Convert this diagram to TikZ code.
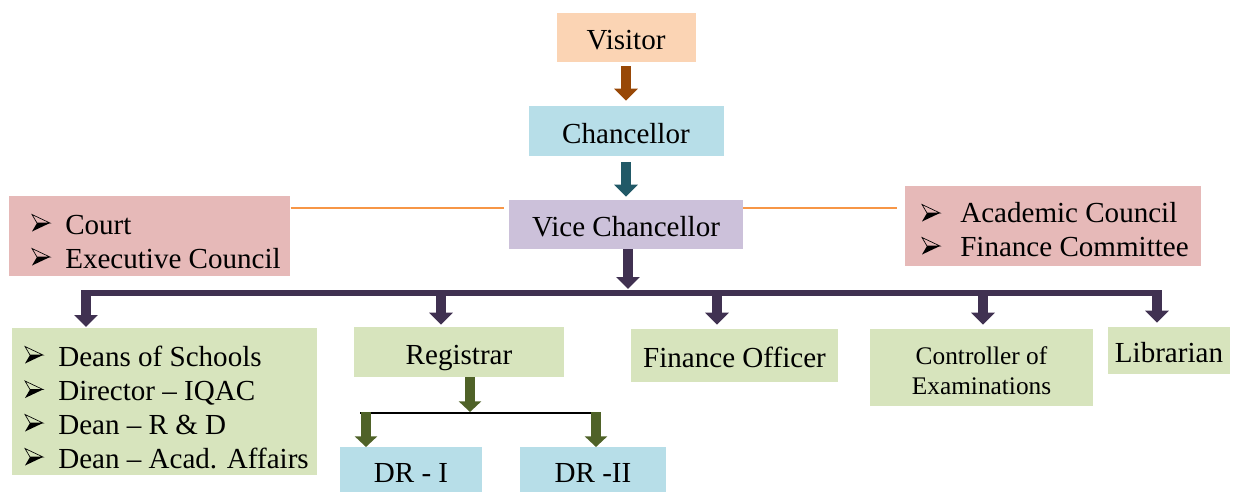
\documentclass[tikz,border=0pt]{standalone}
\usepackage{fontspec}
\setmainfont{Liberation Serif}
\usetikzlibrary{arrows.meta}
\newlength\pxu \setlength\pxu{0.75pt}
\definecolor{cPeach}{HTML}{FBD4B4}
\definecolor{cBlue}{HTML}{B7DEE8}
\definecolor{cLav}{HTML}{CCC1DA}
\definecolor{cPink}{HTML}{E6B9B8}
\definecolor{cGreen}{HTML}{D7E4BD}
\definecolor{cBrown}{HTML}{984807}
\definecolor{cTeal}{HTML}{215967}
\definecolor{cPurple}{HTML}{403151}
\definecolor{cOlive}{HTML}{4F6228}
\definecolor{cOrange}{HTML}{F79646}
\newcommand\bulgap{\hspace*{25.5pt}}
\tikzset{
  box/.style={rectangle, inner sep=0pt, font=\fontsize{21.8}{25.5}\selectfont, text height=18.6pt, text depth=-2.5pt},
  plainbox/.style={rectangle, inner sep=0pt},
  listtext/.style={inner sep=0pt, anchor=west, align=left, font=\fontsize{21.8}{25.5}\selectfont},
  blockarrow/.style={line width=7.5pt, -{Triangle[width=17.25pt, length=9pt]}},
  smallarrow/.style={line width=7.5pt, -{Triangle[width=16.5pt, length=8pt]}},
  busline/.style={line width=4.5pt, draw=cPurple},
  linkline/.style={line width=1.5pt, draw=cOrange},
  bul/.pic={
    \draw[line width=0.5pt, line join=miter] (0,-8.5) -- (18,0) -- (5,0) -- cycle;
    \fill[black] (5,0) -- (18,0) -- (0,8.5) -- cycle;
  },
}
\begin{document}
\begin{tikzpicture}[x=0.75pt, y=-0.75pt]
\useasboundingbox (0,0) rectangle (1235,492);

% top chain
\node[box, fill=cPeach, minimum width=139\pxu, minimum height=49\pxu] (vis) at (626,37.5) {Visitor};
\node[box, fill=cBlue, minimum width=195\pxu, minimum height=50\pxu] (chan) at (626,131) {Chancellor};
\node[box, fill=cLav, minimum width=234\pxu, minimum height=49\pxu] (vc) at (626,224.5) {Vice Chancellor};

% side bodies
\node[plainbox, fill=cPink, minimum width=281\pxu, minimum height=80\pxu, anchor=north west] (lbox) at (9,196) {};
\node[listtext] (ltext) at (31,242) {\bulgap Court\\ \bulgap Executive Council};
\pic at (32,223) {bul};
\pic at (32,257) {bul};
\node[plainbox, fill=cPink, minimum width=296\pxu, minimum height=80\pxu, anchor=north west] (rbox) at (905,186) {};
\node[listtext] (rtext) at (926,230) {\bulgap Academic Council\\ \bulgap Finance Committee};
\pic at (922,213) {bul};
\pic at (922,246) {bul};

% bottom row
\node[plainbox, fill=cGreen, minimum width=305\pxu, minimum height=147\pxu, anchor=north west] (deans) at (12,328) {};
\node[listtext] (dtext) at (24,407) {\bulgap Deans of Schools\\ \bulgap Director -- IQAC\\ \bulgap Dean -- R \& D\\ \bulgap Dean -- Acad. Affairs};
\pic at (25,355) {bul};
\pic at (25,389.5) {bul};
\pic at (25,423) {bul};
\pic at (25,457) {bul};
\node[box, fill=cGreen, minimum width=210\pxu, minimum height=50\pxu] (reg) at (459,352) {Registrar};
\node[box, fill=cGreen, minimum width=207\pxu, minimum height=53\pxu] (fo) at (734.5,355.5) {Finance Officer};
\node[plainbox, fill=cGreen, minimum width=223\pxu, minimum height=77\pxu] (coe) at (981.5,367.5) {};
\node[inner sep=0pt, align=center, font=\fontsize{19}{22.5}\selectfont] (coetext) at (981.5,370.5) {Controller of\\Examinations};
\node[box, fill=cGreen, minimum width=122\pxu, minimum height=47\pxu] (lib) at (1169,350.5) {Librarian};
\node[box, fill=cBlue, minimum width=142\pxu, minimum height=45\pxu, anchor=north] (dr1) at (411,447) {DR - I};
\node[box, fill=cBlue, minimum width=146\pxu, minimum height=45\pxu, anchor=north] (dr2) at (593,447) {DR -II};

% top arrows
\draw[blockarrow, draw=cBrown, shorten <=3pt, shorten >=3.75pt] (vis.south) -- (chan.north);
\draw[blockarrow, draw=cTeal, shorten <=4.5pt, shorten >=2.25pt] (chan.south) -- (vc.north);

% orange links
\coordinate (olev) at (0,208);
\draw[linkline, shorten >=3.75pt] (lbox.east |- olev) -- (vc.west |- olev);
\draw[linkline, shorten >=6pt] (vc.east |- olev) -- (rbox.west |- olev);

% bus
\coordinate (vcj) at (628,289);
\draw[blockarrow, draw=cPurple] (vc.south -| vcj) -- (vcj);
\coordinate (busL) at (81,293);
\coordinate (busR) at (1162,293);
\draw[busline] (busL) -- (busR);
\coordinate (b1) at (86,290);
\coordinate (b2) at (441,290);
\coordinate (b3) at (717,290);
\coordinate (b4) at (983,290);
\coordinate (b5) at (1157,290);
\draw[blockarrow, draw=cPurple, shorten >=0.75pt] (b1) -- (b1 |- deans.north);
\draw[blockarrow, draw=cPurple, shorten >=1.5pt] (b2) -- (b2 |- reg.north);
\draw[blockarrow, draw=cPurple, shorten >=3pt] (b3) -- (b3 |- fo.north);
\draw[blockarrow, draw=cPurple, shorten >=3pt] (b4) -- (b4 |- coe.north);
\draw[blockarrow, draw=cPurple, shorten >=3pt] (b5) -- (b5 |- lib.north);

% registrar branch
\coordinate (rj) at (470,412);
\draw[smallarrow, draw=cOlive] (reg.south -| rj) -- (rj);
\coordinate (rl) at (360,413);
\coordinate (rr) at (601,413);
\draw[line width=1.5pt, black] (rl) -- (rr);
\coordinate (d1) at (366,412);
\coordinate (d2) at (596,412);
\draw[smallarrow, draw=cOlive] (d1) -- (d1 |- dr1.north);
\draw[smallarrow, draw=cOlive] (d2) -- (d2 |- dr2.north);
\end{tikzpicture}
\end{document}
